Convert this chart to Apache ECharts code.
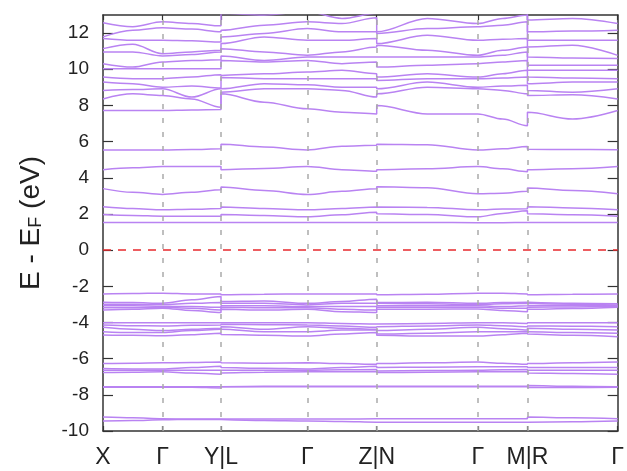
<!DOCTYPE html>
<html>
<head>
<meta charset="utf-8">
<script src="https://cdn.jsdelivr.net/npm/echarts@6/dist/echarts.min.js"></script>
<style>
  html, body { margin: 0; padding: 0; background: #fff; }
  #chart { width: 627px; height: 471px; }
</style>
</head>
<body>
<div id="chart"></div>
<script>
// high-symmetry points along the k-path
const kLabels = ['X', 'Γ', 'Y|L', 'Γ', 'Z|N', 'Γ', 'M|R', 'Γ'];
const kTicks = [0, 0.60, 1.19, 2.06, 2.76, 3.78, 4.28, 5.19];
// sample positions: X m Γ m Y | L m Γ m Z | N m Γ m M | R m Γ
const kSamples = [0, 0.30, 0.60, 0.895, 1.19, 1.19, 1.625, 2.06, 2.41, 2.76,
  2.76, 3.27, 3.78, 4.03, 4.28, 4.28, 4.735, 5.19];
const yTicks = [-10, -8, -6, -4, -2, 0, 2, 4, 6, 8, 10, 12];

// conduction bands 7.5 - 13 eV
const bandsUpper = [
  [7.72, 7.72, 7.72, 7.75, 7.77, 8.64, 8.18, 7.81, 7.62, 7.53, 7.99, 7.53, 7.53, 7.25, 6.88, 7.62, 7.25, 7.72],
  [8.36, 8.64, 8.55, 8.36, 7.90, 8.73, 8.92, 8.92, 8.83, 8.46, 8.64, 9.01, 8.92, 8.83, 8.64, 8.55, 8.59, 8.36],
  [8.83, 8.88, 8.92, 8.46, 8.92, 8.92, 9.20, 9.14, 9.01, 9.01, 8.92, 9.29, 9.01, 9.07, 9.11, 8.83, 8.73, 8.92],
  [9.29, 9.20, 9.01, 9.07, 8.96, 9.55, 9.48, 9.48, 9.48, 9.48, 9.38, 9.48, 9.48, 9.51, 9.57, 9.20, 9.29, 9.29],
  [9.57, 9.48, 9.48, 9.57, 9.70, 9.66, 9.75, 9.85, 9.94, 9.75, 9.57, 9.75, 9.57, 9.75, 9.94, 9.57, 9.51, 9.48],
  [10.03, 10.03, 10.03, 10.03, 10.03, 10.49, 10.40, 10.49, 10.31, 10.40, 10.12, 10.22, 10.31, 10.40, 10.49, 9.94, 9.94, 9.94],
  [10.31, 10.12, 10.40, 10.48, 10.53, 10.74, 10.49, 10.68, 10.68, 10.68, 10.68, 10.68, 10.68, 10.77, 10.96, 10.22, 10.22, 10.22],
  [10.96, 10.96, 10.74, 10.81, 10.96, 11.14, 10.96, 10.77, 10.96, 11.23, 11.33, 11.05, 10.77, 11.05, 11.23, 10.68, 10.62, 10.59],
  [11.14, 11.38, 10.86, 10.96, 11.05, 11.42, 11.79, 11.60, 11.60, 11.70, 11.42, 11.88, 11.60, 11.66, 11.70, 11.23, 11.33, 10.77],
  [11.70, 11.60, 11.60, 11.57, 11.51, 11.79, 11.98, 12.25, 12.07, 12.07, 11.98, 12.25, 12.35, 12.44, 12.62, 11.60, 11.60, 11.60],
  [11.79, 12.16, 12.29, 12.22, 12.07, 12.16, 12.44, 12.62, 12.53, 12.85, 12.07, 12.81, 12.53, 12.81, 13.00, 12.07, 12.11, 12.16],
  [12.57, 12.35, 12.62, 12.53, 12.40, 13.09, 13.00, 13.18, 12.81, 13.09, 13.09, 13.18, 13.18, 13.18, 13.18, 12.72, 12.81, 12.53],
  [13.36, 13.46, 13.27, 13.18, 13.09, 13.36, 13.18, 13.36, 13.36, 13.36, 13.36, 13.46, 13.46, 13.46, 13.46, 13.18, 13.18, 13.18]
];

// conduction bands 1.5 - 6 eV
const bandsLower = [
  [1.53, 1.53, 1.53, 1.53, 1.53, 1.53, 1.53, 1.53, 1.53, 1.53, 1.53, 1.53, 1.52, 1.52, 1.53, 1.53, 1.53, 1.53],
  [1.97, 1.92, 1.88, 1.88, 1.88, 1.97, 1.92, 1.84, 1.95, 2.10, 2.01, 1.97, 1.84, 2.03, 2.18, 2.01, 1.96, 1.88],
  [2.40, 2.30, 2.23, 2.26, 2.30, 2.38, 2.30, 2.23, 2.30, 2.38, 2.40, 2.36, 2.23, 2.27, 2.29, 2.40, 2.33, 2.23],
  [3.40, 3.20, 3.08, 3.20, 3.34, 3.49, 3.30, 3.08, 3.25, 3.40, 3.50, 3.45, 3.12, 3.15, 3.25, 3.43, 3.30, 3.12],
  [4.45, 4.55, 4.62, 4.62, 4.62, 4.45, 4.52, 4.62, 4.45, 4.36, 4.45, 4.50, 4.62, 4.50, 4.34, 4.45, 4.50, 4.62],
  [5.54, 5.54, 5.54, 5.56, 5.60, 5.86, 5.70, 5.54, 5.75, 5.80, 5.86, 5.83, 5.54, 5.60, 5.73, 5.58, 5.56, 5.55]
];

// valence bands, -2.3 to -3.5 eV
const valenceA = [
  [-2.42, -2.40, -2.38, -2.42, -2.42, -2.47, -2.44, -2.42, -2.42, -2.42, -2.47, -2.44, -2.38, -2.38, -2.42, -2.47, -2.44, -2.42],
  [-2.88, -2.90, -2.94, -2.75, -2.56, -2.84, -2.81, -2.94, -2.84, -2.71, -2.90, -2.88, -2.94, -2.90, -2.88, -2.90, -2.94, -2.97],
  [-2.99, -2.99, -3.01, -2.94, -2.90, -2.94, -2.94, -3.03, -2.94, -2.94, -2.97, -2.97, -3.01, -2.97, -2.94, -2.97, -2.99, -3.03],
  [-3.08, -3.08, -3.10, -3.12, -3.16, -3.08, -3.08, -3.12, -3.12, -3.12, -3.08, -3.08, -3.08, -3.12, -3.08, -3.05, -3.06, -3.08],
  [-3.18, -3.18, -3.16, -3.21, -3.31, -3.16, -3.19, -3.18, -3.27, -3.31, -3.16, -3.16, -3.16, -3.21, -3.21, -3.16, -3.14, -3.12],
  [-3.31, -3.27, -3.21, -3.34, -3.45, -3.27, -3.31, -3.27, -3.40, -3.45, -3.27, -3.27, -3.25, -3.34, -3.40, -3.27, -3.23, -3.16]
];

// valence bands, -4 to -4.8 eV
const valenceB = [
  [-4.01, -4.01, -4.01, -4.01, -4.01, -4.01, -4.01, -4.01, -4.05, -4.08, -4.05, -4.05, -4.01, -4.01, -4.05, -4.01, -4.01, -4.01],
  [-4.14, -4.18, -4.19, -4.16, -4.14, -4.10, -4.12, -4.14, -4.19, -4.27, -4.23, -4.19, -4.14, -4.18, -4.23, -4.19, -4.21, -4.23],
  [-4.27, -4.38, -4.45, -4.38, -4.32, -4.23, -4.38, -4.23, -4.32, -4.38, -4.45, -4.38, -4.27, -4.34, -4.42, -4.32, -4.38, -4.42],
  [-4.51, -4.56, -4.56, -4.45, -4.38, -4.38, -4.51, -4.51, -4.42, -4.42, -4.64, -4.60, -4.51, -4.51, -4.51, -4.51, -4.56, -4.60],
  [-4.69, -4.71, -4.73, -4.68, -4.60, -4.66, -4.71, -4.75, -4.64, -4.56, -4.71, -4.75, -4.75, -4.68, -4.60, -4.64, -4.71, -4.79]
];

// valence bands, -6.2 to -6.9 eV
const valenceC = [
  [-6.27, -6.25, -6.23, -6.21, -6.18, -6.23, -6.25, -6.23, -6.27, -6.31, -6.27, -6.23, -6.19, -6.25, -6.31, -6.27, -6.23, -6.19],
  [-6.55, -6.57, -6.57, -6.49, -6.42, -6.49, -6.53, -6.57, -6.49, -6.42, -6.49, -6.47, -6.45, -6.45, -6.45, -6.49, -6.49, -6.49],
  [-6.64, -6.64, -6.64, -6.64, -6.64, -6.64, -6.64, -6.64, -6.62, -6.60, -6.68, -6.66, -6.64, -6.62, -6.60, -6.64, -6.64, -6.64],
  [-6.77, -6.75, -6.73, -6.79, -6.86, -6.79, -6.75, -6.73, -6.73, -6.73, -6.77, -6.75, -6.73, -6.73, -6.73, -6.79, -6.82, -6.86]
];

// valence bands near -7.5 eV
const valenceD = [
  [-7.55, -7.55, -7.55, -7.55, -7.56, -7.53, -7.53, -7.53, -7.53, -7.53, -7.53, -7.53, -7.53, -7.53, -7.53, -7.49, -7.53, -7.55],
  [-7.58, -7.58, -7.58, -7.58, -7.62, -7.56, -7.56, -7.56, -7.56, -7.56, -7.56, -7.56, -7.56, -7.56, -7.56, -7.60, -7.60, -7.58]
];

// valence bands near -9.4 eV
const valenceE = [
  [-9.23, -9.27, -9.32, -9.34, -9.34, -9.34, -9.34, -9.34, -9.34, -9.32, -9.32, -9.32, -9.32, -9.32, -9.32, -9.23, -9.27, -9.32],
  [-9.45, -9.42, -9.38, -9.36, -9.36, -9.38, -9.42, -9.45, -9.47, -9.51, -9.51, -9.51, -9.51, -9.51, -9.51, -9.51, -9.49, -9.45]
];

const bandColor = '#b983f2';
const font = 'Liberation Sans, Arial, sans-serif';

const allBands = [].concat(bandsUpper, bandsLower, valenceA, valenceB, valenceC, valenceD, valenceE);

const series = allBands.map((band) => ({
  type: 'line',
  data: kSamples.map((k, i) => [k, band[i]]),
  showSymbol: false,
  smooth: 0.35,
  smoothMonotone: 'x',
  silent: true,
  lineStyle: { color: bandColor, width: 1.5 },
  z: 3,
}));

// dashed guide lines: high-symmetry points and the Fermi level
series.push({
  type: 'line',
  data: [],
  silent: true,
  markLine: {
    silent: true,
    symbol: 'none',
    animation: false,
    label: { show: false },
    data: kTicks.slice(1, -1).map((k) => ({
      xAxis: k,
      lineStyle: { color: '#aaaaaa', width: 1.5, type: [5, 9] },
    })).concat([{
      yAxis: 0,
      lineStyle: { color: '#e8282d', width: 1.5, type: [8, 7] },
    }]),
  },
  z: 2,
});

function kLabel(v) {
  for (let i = 0; i < kTicks.length; i++) {
    if (Math.abs(v - kTicks[i]) < 1e-6) return kLabels[i];
  }
  return '';
}

const frame = { show: true, onZero: false, lineStyle: { color: '#333', width: 1.5 } };

const option = {
  animation: false,
  backgroundColor: '#fff',
  grid: { left: 103, right: 5, top: 15, bottom: 40 },
  xAxis: [
    {
      type: 'value',
      position: 'bottom',
      min: 0,
      max: 5.19,
      axisLine: frame,
      splitLine: { show: false },
      axisTick: { show: true, inside: true, length: 5, customValues: kTicks, lineStyle: { color: '#333', width: 1.2 } },
      axisLabel: {
        customValues: kTicks,
        formatter: kLabel,
        showMinLabel: true,
        showMaxLabel: true,
        margin: 15,
        fontSize: 23,
        fontFamily: font,
        color: '#222',
      },
    },
    {
      type: 'value',
      position: 'top',
      min: 0,
      max: 5.19,
      axisLine: frame,
      splitLine: { show: false },
      axisTick: { show: true, inside: true, length: 5, customValues: kTicks, lineStyle: { color: '#333', width: 1.2 } },
      axisLabel: { show: false },
    },
  ],
  yAxis: [
    {
      type: 'value',
      position: 'left',
      min: -10,
      max: 13,
      axisLine: frame,
      splitLine: { show: false },
      axisTick: { show: true, inside: true, length: 10, customValues: yTicks, lineStyle: { color: '#333', width: 1.2 } },
      axisLabel: {
        customValues: yTicks,
        margin: 14,
        fontSize: 19,
        fontFamily: font,
        color: '#222',
      },
      name: '{a|E - E}{b|F}{a| (eV)}',
      nameLocation: 'middle',
      nameRotate: 90,
      nameGap: 58,
      nameTextStyle: {
        rich: {
          a: { fontSize: 28, fontFamily: font, color: '#222' },
          b: { fontSize: 18, fontFamily: font, color: '#222', verticalAlign: 'bottom' },
        },
      },
    },
    {
      type: 'value',
      position: 'right',
      min: -10,
      max: 13,
      axisLine: frame,
      splitLine: { show: false },
      axisTick: { show: true, inside: true, length: 10, customValues: yTicks, lineStyle: { color: '#333', width: 1.2 } },
      axisLabel: { show: false },
    },
  ],
  series,
};

const myChart = echarts.init(document.getElementById('chart'));
myChart.setOption(option);
</script>
</body>
</html>
